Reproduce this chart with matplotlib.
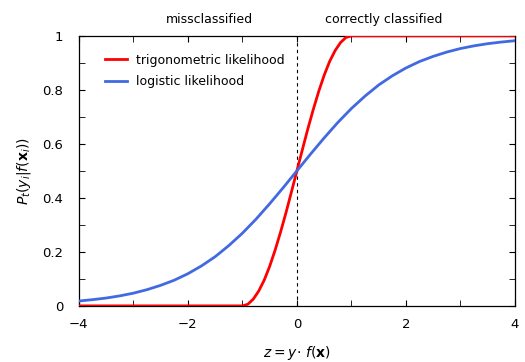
import matplotlib
matplotlib.use("Agg")
import matplotlib.pyplot as plt
from matplotlib.ticker import MultipleLocator

plt.rcParams['font.family'] = ['DejaVu Sans']
plt.rcParams['mathtext.fontset'] = 'dejavusans'

# logistic likelihood
z_log = [-4, -3.75, -3.5, -3.25, -3, -2.75, -2.5, -2.25, -2, -1.75, -1.5, -1.25, -1,
         -0.75, -0.5, -0.25, 0, 0.25, 0.5, 0.75, 1, 1.25, 1.5, 1.75, 2, 2.25, 2.5,
         2.75, 3, 3.25, 3.5, 3.75, 4]
p_log = [0.018, 0.023, 0.029, 0.037, 0.047, 0.060, 0.076, 0.095, 0.119, 0.148, 0.182,
         0.223, 0.269, 0.321, 0.378, 0.438, 0.500, 0.562, 0.622, 0.679, 0.731, 0.777,
         0.818, 0.852, 0.881, 0.905, 0.924, 0.940, 0.953, 0.963, 0.971, 0.977, 0.982]

# trigonometric likelihood
z_trig = [-4, -1, -0.9, -0.8, -0.7, -0.6, -0.5, -0.4, -0.3, -0.2, -0.1, 0,
          0.1, 0.2, 0.3, 0.4, 0.5, 0.6, 0.7, 0.8, 0.9, 1, 4]
p_trig = [0, 0, 0.006, 0.025, 0.055, 0.095, 0.146, 0.206, 0.273, 0.345, 0.422, 0.500,
          0.578, 0.655, 0.727, 0.794, 0.854, 0.905, 0.945, 0.975, 0.994, 1, 1]

region_labels = ['missclassified', 'correctly classified']
region_x = [-1.6, 1.6]

fig = plt.figure(figsize=(5.25, 3.62), dpi=100)
ax = fig.add_axes([0.150, 0.155, 0.831, 0.746])

ax.plot(z_trig, p_trig, color='#ff0000', lw=2, label='trigonometric likelihood', zorder=3)
ax.plot(z_log, p_log, color='#4169e1', lw=2, label='logistic likelihood', zorder=3)
ax.axvline(0, color='black', lw=0.8, ls=(0, (3, 3)), zorder=2)

ax.set_xlim(-4, 4)
ax.set_ylim(0, 1)
ax.xaxis.set_minor_locator(MultipleLocator(1))
ax.yaxis.set_minor_locator(MultipleLocator(0.1))
ax.set_yticks([0, 0.2, 0.4, 0.6, 0.8, 1])
ax.set_yticklabels(['0', '0.2', '0.4', '0.6', '0.8', '1'])
ax.set_xticks([-4, -2, 0, 2, 4])
ax.set_xticklabels(['\u22124', '\u22122', '0', '2', '4'])
ax.tick_params(which='both', direction='in', top=True, right=True, labelsize=9.5, length=4)
ax.tick_params(axis='x', pad=9)
ax.tick_params(axis='y', pad=11)
for s in ax.spines.values():
    s.set_linewidth(0.9)

ax.set_xlabel(r'$z = y\!\cdot\, f(\mathbf{x})$', fontsize=10, labelpad=9)
ax.set_ylabel(r'$P_t(y_i|f(\mathbf{x}_i))$', fontsize=10, labelpad=7)

for lab, xx in zip(region_labels, region_x):
    ax.text(xx, 1.035, lab, ha='center', va='bottom', fontsize=9,
            transform=ax.transData, clip_on=False)

ax.legend(loc='upper left', frameon=False, fontsize=9, handlelength=1.7,
          handletextpad=0.75, bbox_to_anchor=(0.035, 0.975), labelspacing=0.65)

fig.savefig('out.png', dpi=100)
